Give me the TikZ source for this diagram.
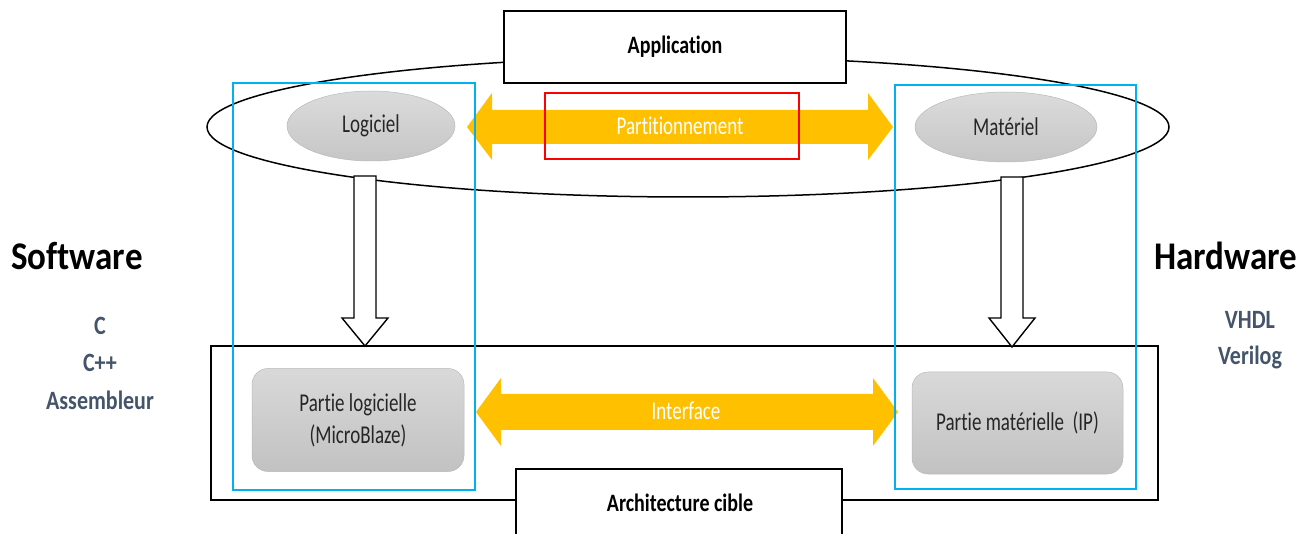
\documentclass[tikz,border=0pt]{standalone}
\usepackage{graphicx}
\usepackage{fontspec}
\setmainfont{Carlito}[Ligatures=NoCommon]
\usetikzlibrary{shapes.geometric}
\definecolor{amber}{HTML}{FFC000}
\definecolor{skyline}{HTML}{00B0F0}
\definecolor{slate}{HTML}{44546A}
\definecolor{alertred}{HTML}{FF0000}
% tall, narrow lettering
\newcommand\tallby[2]{\scalebox{1}[#1]{#2}}

\begin{document}
\begin{tikzpicture}[x=1pt,y=-1pt,
  frame/.style={draw=black, line width=1.6pt, fill=white, inner sep=0pt},
  titletext/.style={font=\fontsize{20}{24}\selectfont\bfseries},
  bodytext/.style={font=\fontsize{19}{22}\selectfont, text=black!85},
  oval/.style={ellipse, draw=gray!55, line width=0.5pt, top color=gray!28, bottom color=gray!45,
               minimum width=168pt, minimum height=70pt, inner sep=0pt, bodytext},
  greybox/.style={draw=gray!55, line width=0.5pt, top color=gray!30, bottom color=gray!48,
                  rounded corners=16pt, inner sep=0pt, bodytext, align=center},
  zone/.style={draw=skyline, line width=1.6pt},
  band/.style={fill=amber},
  bandtext/.style={font=\fontsize{19}{22}\selectfont, text=white},
  hollow/.style={draw=black, line width=1.4pt, fill=white, line join=miter},
  sidetitle/.style={font=\fontsize{35}{40}\selectfont\bfseries},
  langtext/.style={font=\fontsize{22}{26}\selectfont\bfseries, text=slate}
]
\useasboundingbox (0,0) rectangle (1312,534);

% enclosing application oval
\draw[line width=1.5pt] (688,127) ellipse [x radius=481, y radius=70];

% application title box
\node[frame, minimum width=342pt, minimum height=72pt, titletext] (app) at (675,47) {\tallby{1.25}{Application}};

% software / hardware ovals
\node[oval] (log) at (371,126) {\tallby{1.35}{Logiciel}};
\node[oval, minimum width=182pt] (mat) at (1006,127) {\tallby{1.35}{Matériel}};

% partitioning double arrow
\coordinate (pL) at (467,127);
\coordinate (pR) at (893,127);
\fill[amber] (pL) -- (492,93) -- (492,110) -- (868,110) -- (868,93) -- (pR)
  -- (868,160) -- (868,144) -- (492,144) -- (492,160) -- cycle;
\node[draw=alertred, line width=1.2pt, minimum width=254pt, minimum height=66pt,
      inner sep=0pt] (part) at (672,126) {};
\node[bandtext] (parttext) at (680,126) {\tallby{1.35}{Partitionnement}};

% target architecture frame
\node[draw=black, line width=1.6pt, minimum width=947pt, minimum height=154pt, inner sep=0pt] (arch) at (684.5,423) {};

% refinement arrows
\draw[hollow] (354,176) -- (376,176) -- (376,318) -- (388,318) -- (365,346)
  -- (342,318) -- (354,318) -- cycle;
\draw[hollow] (1001,177) -- (1023,177) -- (1023,318) -- (1035,318) -- (1012,347)
  -- (989,318) -- (1001,318) -- cycle;

% software and hardware parts
\node[greybox, minimum width=212pt, minimum height=103pt] (sw) at (358,420)
  {\tallby{1.35}{Partie logicielle}\\[8pt]\tallby{1.35}{(MicroBlaze)}};
\node[greybox, minimum width=211pt, minimum height=102pt] (hw) at (1017.5,423)
  {\tallby{1.35}{Partie matérielle\hspace{0.45em}(IP)}};

% interface double arrow
\coordinate (iL) at (476,412);
\coordinate (iR) at (898,412);
\fill[amber] (iL) -- (501,378) -- (501,394) -- (873,394) -- (873,378) -- (iR)
  -- (873,446) -- (873,430) -- (501,430) -- (501,446) -- cycle;
\node[bandtext] (itf) at (686,411) {\tallby{1.35}{Interface}};

% software and hardware zones
\draw[zone] (233,83) rectangle (475,490);
\draw[zone] (895,85) rectangle (1136,489);

% target architecture title box
\node[frame, minimum width=326pt, minimum height=80pt, anchor=north] (cible) at (679,468) {};
\node[titletext] (cibletext) at (680,503) {\tallby{1.25}{Architecture cible}};

% side labels
\node[sidetitle] (swt) at (77,256) {\tallby{1.12}{Software}};
\node[langtext] (c1) at (100,326) {\tallby{1.2}{C}};
\node[langtext] (c2) at (100,363) {\tallby{1.2}{C++}};
\node[langtext] (c3) at (100,400) {\tallby{1.2}{Assembleur}};

\node[sidetitle] (hwt) at (1226,256) {\tallby{1.12}{Hardware}};
\node[langtext] (v1) at (1250,320) {\tallby{1.2}{VHDL}};
\node[langtext] (v2) at (1250,357) {\tallby{1.2}{Verilog}};
\end{tikzpicture}
\end{document}
